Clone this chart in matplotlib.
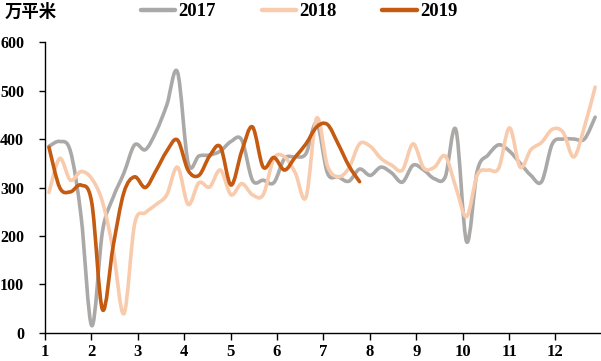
import numpy as np
import matplotlib.pyplot as plt
from matplotlib.path import Path
from matplotlib.patches import PathPatch
from matplotlib.lines import Line2D

plt.rcParams['font.family'] = ['Liberation Serif', 'Noto Sans CJK SC', 'DejaVu Sans']

# 周度数据（第1-52周）
weeks = np.arange(1, 53)
sales_2017 = [385, 395, 375, 240, 15, 210, 280, 330, 388, 378,
              415, 470, 538, 350, 365, 367, 375, 395, 398, 315,
              315, 310, 360, 363, 370, 433, 330, 322, 313, 338,
              325, 342, 330, 311, 346, 336, 318, 322, 419, 188,
              335, 367, 388, 375, 350, 325, 312, 390, 400, 400,
              400, 445]
sales_2018 = [290, 360, 315, 333, 318, 270, 170, 40, 225, 248,
              265, 285, 342, 265, 310, 301, 336, 285, 308, 285,
              285, 360, 363, 330, 280, 443, 345, 322, 340, 390,
              385, 360, 346, 336, 390, 340, 342, 365, 300, 240,
              326, 336, 340, 423, 342, 378, 393, 420, 414, 363,
              425, 507]
sales_2019 = [383, 300, 291, 305, 268, 48, 180, 290, 322, 300,
              335, 375, 398, 335, 325, 365, 384, 305, 375, 425,
              342, 362, 336, 363, 390, 425, 430, 390, 345, 312]

months = list(range(1, 13))
years = ['2017', '2018', '2019']
colors = ['#ABA9A8', '#F8CBAD', '#C55A11']


def smooth_path(x, y):
    # 平滑曲线（贝塞尔），只用已有数据点生成控制点
    pts = np.column_stack([x, y]).astype(float)
    n = len(pts)
    verts = [pts[0]]
    codes = [Path.MOVETO]
    for i in range(n - 1):
        p0 = pts[i - 1] if i > 0 else pts[i]
        p1, p2 = pts[i], pts[i + 1]
        p3 = pts[i + 2] if i + 2 < n else pts[i + 1]
        verts += [p1 + (p2 - p0) / 6, p2 - (p3 - p1) / 6, p2]
        codes += [Path.CURVE4] * 3
    return Path(verts, codes)


fig = plt.figure(figsize=(6.01, 3.61), dpi=100)
ax = fig.add_axes([0.0749, 0.0776, 0.9235, 0.806])

series = [sales_2017, sales_2018, sales_2019]
handles = []
for vals, c, lab in zip(series, colors, years):
    path = smooth_path(weeks[:len(vals)], vals)
    ax.add_patch(PathPatch(path, fill=False, edgecolor=c, lw=2.6,
                           capstyle='round', joinstyle='round'))
    handles.append(Line2D([], [], color=c, lw=3.2, solid_capstyle='round'))

# 月份刻度对应的周位置
w_per_month = 52 / 12
x0 = 0.63
ax.set_xlim(x0, x0 + 11.96 * w_per_month)
ax.set_ylim(0, 600)
ax.set_xticks([x0 + (m - 1) * w_per_month for m in months])
ax.set_xticklabels([str(m) for m in months])
ax.set_yticks(range(0, 601, 100))

for s in ['top', 'right']:
    ax.spines[s].set_visible(False)
for s in ['left', 'bottom']:
    ax.spines[s].set_linewidth(1.0)
ax.tick_params(axis='x', direction='out', length=5, width=1, pad=3,
               labelsize=12)
ax.tick_params(axis='y', direction='out', length=4, width=1, pad=11,
               labelsize=11.5)
for t in ax.get_xticklabels() + ax.get_yticklabels():
    t.set_fontweight('bold')

fig.text(0.008, 0.967, '万平米', family=['Noto Sans CJK SC'], fontsize=12.5,
         fontweight='bold', style='italic', va='center', ha='left')

fig.legend(handles, years, loc='center left', bbox_to_anchor=(0.234, 0.967),
           ncol=3, frameon=False, handlelength=1.85, handletextpad=0.15,
           columnspacing=2.45, borderpad=0, borderaxespad=0,
           prop={'weight': 'bold', 'size': 13.5})

fig.savefig('out.png', dpi=100)
